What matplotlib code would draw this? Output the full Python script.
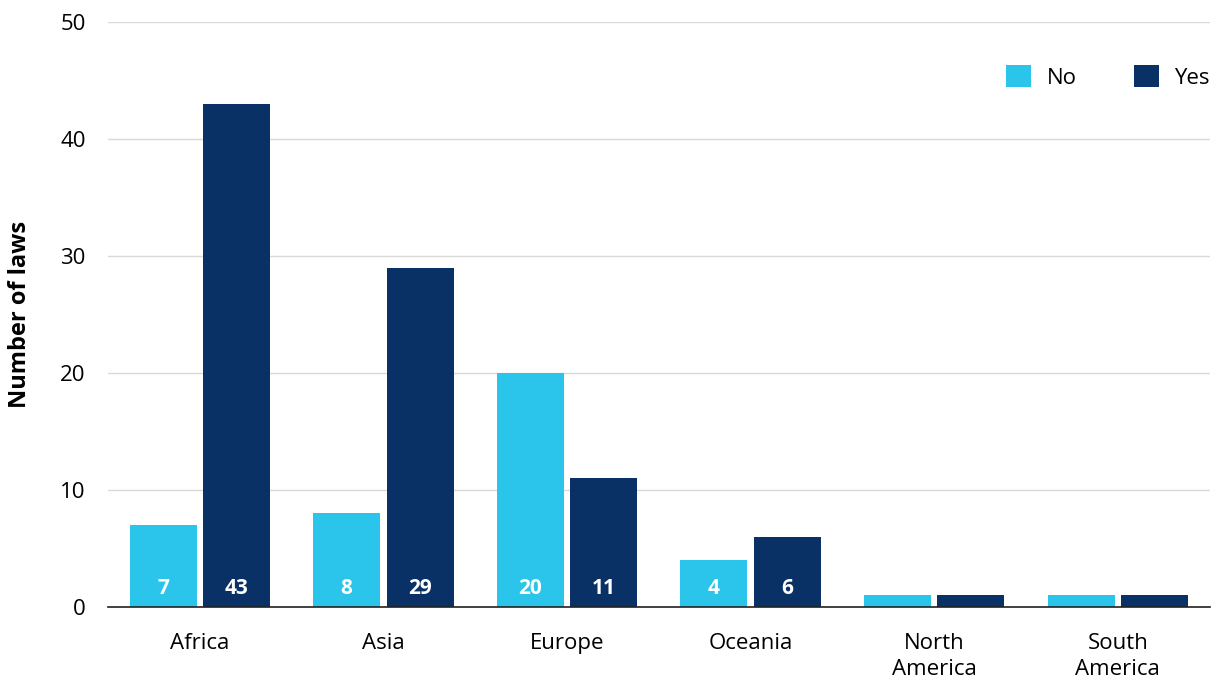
import matplotlib
matplotlib.use("Agg")
import matplotlib.pyplot as plt
import numpy as np

categories = ["Africa", "Asia", "Europe", "Oceania", "North\nAmerica", "South\nAmerica"]
no_values = [7, 8, 20, 4, 1, 1]
yes_values = [43, 29, 11, 6, 1, 1]
series_names = ["No", "Yes"]
y_ticks = [0, 10, 20, 30, 40, 50]

plt.rcParams['font.family'] = ['Open Sans', 'DejaVu Sans']

fig = plt.figure(figsize=(12.16, 6.79), dpi=100)
ax = fig.add_axes([0.0888, 0.106, 0.906, 0.8616])

x = np.arange(len(categories))
w = 0.365
off = 0.2
c_no = "#2BC4EA"
c_yes = "#0A3166"
b1 = ax.bar(x - off, no_values, w, color=c_no, label=series_names[0], zorder=3)
b2 = ax.bar(x + off, yes_values, w, color=c_yes, label=series_names[1], zorder=3)

for bars, vals in ((b1, no_values), (b2, yes_values)):
    for rect, v in zip(bars, vals):
        if v >= 3:
            ax.text(rect.get_x() + rect.get_width() / 2, 1.55, str(v),
                    ha="center", va="center", color="white",
                    fontsize=15, fontweight="bold", zorder=4)

ax.set_xlim(-0.5, len(categories) - 0.5)
ax.set_ylim(0, 50)
ax.set_yticks(y_ticks)
ax.set_yticklabels([str(t) for t in y_ticks], fontsize=16)
ax.set_xticks(x)
ax.set_xticklabels(categories, fontsize=16, linespacing=1.3)
ax.tick_params(axis="y", length=0, pad=16)
ax.tick_params(axis="x", length=0, pad=19)
ax.grid(axis="y", color="#d9d9d9", linewidth=1, zorder=0)
for s in ["top", "right", "left"]:
    ax.spines[s].set_visible(False)
ax.spines["bottom"].set_color("#222222")
ax.spines["bottom"].set_linewidth(1.2)
ax.spines["bottom"].set_zorder(5)

ax.set_ylabel("Number of laws", fontsize=17, fontweight="bold", labelpad=20)

leg = ax.legend(loc="center right", bbox_to_anchor=(1.0, 0.906), ncol=2, frameon=False,
                fontsize=16, handlelength=1.1, handleheight=1.1,
                columnspacing=2.6, handletextpad=0.7, borderaxespad=0, borderpad=0)

fig.savefig("out.png", dpi=100)
